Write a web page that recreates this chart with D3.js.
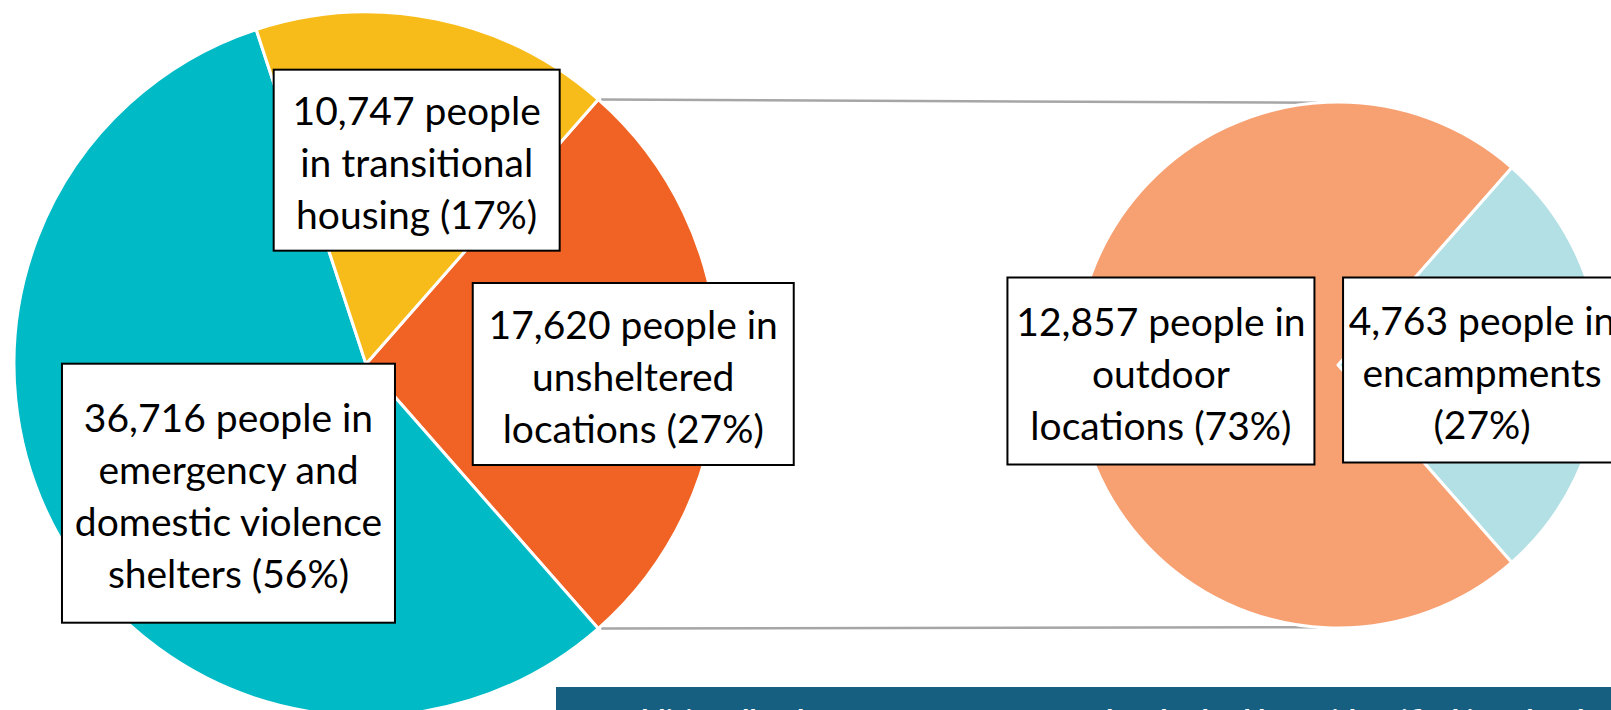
<!DOCTYPE html>
<html>
<head>
<meta charset="utf-8">
<script src="https://cdn.jsdelivr.net/npm/d3@7"></script>
<style>
  body { margin: 0; background: #fff; }
  svg { display: block; }
</style>
</head>
<body>
<div id="chart"></div>
<script>
// main pie: where people were counted
const mainCategories = ["unsheltered locations", "emergency and domestic violence shelters", "transitional housing"];
const mainValues = [17620, 36716, 10747];
const mainLabels = [
  ["17,620 people in", "unsheltered", "locations (27%)"],
  ["36,716 people in", "emergency and", "domestic violence", "shelters (56%)"],
  ["10,747 people", "in transitional", "housing (17%)"]
];

// secondary pie: breakdown of the unsheltered slice
const subCategories = ["encampments", "outdoor locations"];
const subValues = [4763, 12857];
const subLabels = [
  ["4,763 people in", "encampments", "(27%)"],
  ["12,857 people in", "outdoor", "locations (73%)"]
];

const W = 1611, H = 710;
const svg = d3.select("#chart").append("svg")
  .attr("width", W)
  .attr("height", H);

const mainColor = d3.scaleOrdinal().domain(mainCategories).range(["#F16324", "#00BAC6", "#F8BC1A"]);
const subColor = d3.scaleOrdinal().domain(subCategories).range(["#B3E0E5", "#F7A072"]);

// pie geometry
const left = {cx: 366, cy: 364, r: 352};
const right = {cx: 1338, cy: 365, r: 263};

function makePie(values) {
  let span = 2 * Math.PI * values[0] / d3.sum(values);
  let a0 = Math.PI / 2 - span / 2; // first slice centred on the right side
  return d3.pie().sort(null).startAngle(a0).endAngle(a0 + 2 * Math.PI)(values);
}

const mainArcs = makePie(mainValues);
const subArcs = makePie(subValues);

const arcL = d3.arc().innerRadius(0).outerRadius(left.r);
const arcR = d3.arc().innerRadius(0).outerRadius(right.r);

function pt(c, r, a) { return [c.cx + r * Math.sin(a), c.cy - r * Math.cos(a)]; }

// connector lines from the unsheltered slice to the secondary pie
let o = mainArcs[0];
let tilt = 0.079;
let lines = [
  [pt(left, left.r, o.startAngle), pt(right, right.r, -tilt)],
  [pt(left, left.r, o.endAngle), pt(right, right.r, Math.PI + tilt)]
];
svg.append("g").selectAll("line")
  .data(lines)
  .enter().append("line")
    .attr("x1", d => d[0][0] + 3)
    .attr("y1", d => d[0][1])
    .attr("x2", d => d[1][0])
    .attr("y2", d => d[1][1])
    .attr("stroke", "#a6a6a6")
    .attr("stroke-width", 2.5);

svg.append("g")
  .attr("transform", "translate(" + left.cx + "," + left.cy + ")")
  .selectAll("path")
  .data(mainArcs)
  .enter().append("path")
    .attr("d", arcL)
    .attr("fill", (d, i) => mainColor(mainCategories[i]))
    .attr("stroke", "#fff")
    .attr("stroke-width", 3)
    .attr("stroke-linejoin", "round");

svg.append("g")
  .attr("transform", "translate(" + right.cx + "," + right.cy + ")")
  .selectAll("path")
  .data(subArcs)
  .enter().append("path")
    .attr("d", arcR)
    .attr("fill", (d, i) => subColor(subCategories[i]))
    .attr("stroke", "#fff")
    .attr("stroke-width", 3)
    .attr("stroke-linejoin", "round");

// data label boxes: centroid of a label arc plus nudges, fixed box sizes
const lh = 52, fs = 39;
function drawLabels(arcs, c, lines, layout) {
  let labelArc = d3.arc().innerRadius(c.r * 0.62).outerRadius(c.r * 0.62);
  let g = svg.append("g");
  arcs.forEach(function(d, i) {
    let cen = labelArc.centroid(d);
    let L = layout[i];
    let x = c.cx + cen[0] + L.dx, y = c.cy + cen[1] + L.dy;
    let box = g.append("g").attr("transform", "translate(" + x + "," + y + ")");
    box.append("rect")
      .attr("x", -L.w / 2).attr("y", -L.h / 2)
      .attr("width", L.w).attr("height", L.h)
      .attr("fill", "#fff")
      .attr("stroke", "#000")
      .attr("stroke-width", 2);
    let n = lines[i].length;
    box.selectAll("text")
      .data(lines[i])
      .enter().append("text")
        .attr("x", 0)
        .attr("y", (t, k) => (k - (n - 1) / 2) * lh + 17)
        .attr("text-anchor", "middle")
        .style("font-family", "Lato, 'Open Sans', sans-serif")
        .style("font-size", fs + "px")
        .attr("fill", "#000")
        .text(t => t);
  });
}

drawLabels(mainArcs, left, mainLabels, [
  {dx: 49, dy: 10, w: 321, h: 182},
  {dx: 52, dy: 21, w: 333, h: 259},
  {dx: 7, dy: 10, w: 286, h: 181}
]);
drawLabels(subArcs, right, subLabels, [
  {dx: -19, dy: 5, w: 278, h: 185},
  {dx: -14, dy: 6, w: 307, h: 187}
]);

// caption bar, cut off by the bottom edge
svg.append("rect")
  .attr("x", 556).attr("y", 687)
  .attr("width", W - 556).attr("height", H - 687)
  .attr("fill", "#165F80");
svg.append("text")
  .attr("x", 611).attr("y", 731.5)
  .attr("fill", "#fff")
  .style("font-family", "Lato, sans-serif")
  .style("font-weight", "bold")
  .style("font-size", "30px")
  .text("Additionally, there were 29,000 people who had been identified in other locations");
</script>
</body>
</html>
